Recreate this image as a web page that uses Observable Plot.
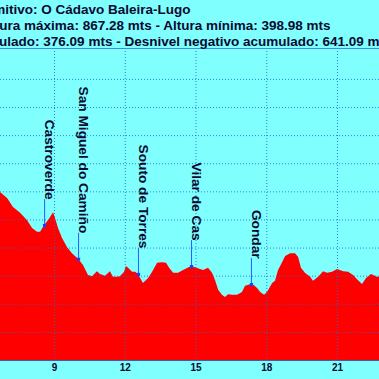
<!DOCTYPE html>
<html><head><meta charset="utf-8">
<script src="https://cdn.jsdelivr.net/npm/d3@7"></script>
<script src="https://cdn.jsdelivr.net/npm/@observablehq/plot@0.6"></script>
<style>html,body{margin:0;padding:0;overflow:hidden;background:#80ffff;}</style>
</head><body><div id="chart"></div>
<script>
const titleLines = [
  "Camino Primitivo: O Cádavo Baleira-Lugo",
  "Altura máxima: 867.28 mts - Altura mínima: 398.98 mts",
  "Desnivel positivo acumulado: 376.09 mts - Desnivel negativo acumulado: 641.09 mts"
];
const km = [6.6, 6.71, 7.01, 7.26, 7.56, 7.85, 8.07, 8.28, 8.41, 8.58, 8.75, 8.96, 9.04, 9.17, 9.34, 9.55, 9.76, 10.02, 10.23, 10.44, 10.61, 10.82, 10.95, 11.16, 11.37, 11.50, 11.67, 11.80, 11.97, 12.05, 12.14, 12.31, 12.44, 12.56, 12.77, 12.99, 13.16, 13.37, 13.58, 13.75, 13.88, 14.05, 14.26, 14.47, 14.81, 14.98, 15.19, 15.32, 15.53, 15.70, 15.83, 15.96, 16.12, 16.25, 16.38, 16.55, 16.76, 16.97, 17.10, 17.35, 17.48, 17.61, 17.74, 17.91, 18.03, 18.25, 18.37, 18.50, 18.67, 18.80, 19.01, 19.22, 19.35, 19.47, 19.64, 19.86, 19.98, 20.20, 20.41, 20.58, 20.79, 21.00, 21.26, 21.47, 21.68, 21.89, 22.06, 22.23, 22.44, 22.70, 22.78, 23.0];
const elevation = [652, 649, 638, 622, 612, 599, 585, 578, 578, 590, 599, 613, 603, 585, 567, 551, 540, 530, 519, 501, 499, 508, 503, 500, 508, 498, 498, 499, 507, 517, 514, 507, 507, 503, 487, 496, 507, 523, 524, 523, 514, 505, 505, 510, 517, 515, 512, 510, 514, 505, 492, 475, 466, 462, 467, 466, 466, 471, 482, 485, 483, 478, 471, 466, 471, 487, 491, 510, 524, 535, 540, 540, 533, 514, 505, 498, 491, 498, 508, 505, 507, 512, 508, 507, 501, 492, 485, 496, 503, 498, 498, 495];
const placeNames = ["Castroverde", "San Miguel do Camiño", "Souto de Torres", "Vilar de Cas", "Gondar"];
const placeKm = [8.58, 10.02, 12.56, 14.81, 17.35];
const placeElevation = [590, 530, 503, 517, 485];
const xTickLabels = [9, 12, 15, 18, 21];
const xGrid = [6, 9, 12, 15, 18, 21];
const yTicks = [400, 450, 500, 550, 600, 650, 700, 750, 800, 850];
const xDomain = [6.71, 22.78];
const yDomain = [350, 905];

const profile = km.map((k, i) => ({km: k, elev: elevation[i]}));
const places = placeNames.map((n, i) => ({name: n, km: placeKm[i], elev: placeElevation[i]}));
const H = 379, MT = 48, MB = 19;
const pxPerUnit = (H - MT - MB) / (yDomain[1] - yDomain[0]);
const leader = 26 / pxPerUnit;

const textColor = "#0a0a30";
const gridColor = "#1f6fd0";

const chart = Plot.plot({
  width: 379, height: H,
  marginLeft: 0, marginRight: 0, marginTop: MT, marginBottom: MB,
  style: {background: "#80ffff", fontFamily: "'Liberation Sans', Arial, sans-serif", fontSize: "10px", fontWeight: "bold", color: textColor, overflow: "hidden"},
  x: {domain: xDomain, ticks: xTickLabels, tickSize: 0, tickPadding: 3, tickFormat: d => String(d), label: null},
  y: {domain: yDomain, axis: null},
  marks: [
    Plot.areaY(profile, {x: "km", y: "elev", fill: "#ff0000", clip: true}),
    Plot.ruleX(xGrid, {stroke: gridColor, strokeDasharray: "1,2", strokeOpacity: 0.85, clip: true}),
    Plot.ruleY(yTicks, {stroke: gridColor, strokeDasharray: "1,2", strokeOpacity: 0.85}),
    Plot.ruleY([yDomain[1]], {stroke: "#3c8ee0", strokeWidth: 1.2}),
    Plot.ruleY([yDomain[0]], {stroke: "#3060c0", strokeWidth: 1}),
    Plot.ruleX(places, {x: "km", y1: "elev", y2: d => d.elev + leader, stroke: "#2a5cff", strokeWidth: 1}),
    Plot.dot(places, {x: "km", y: "elev", symbol: "square", r: 1.8, fill: "#1a40ff"}),
    Plot.text(places, {x: "km", y: "elev", text: "name", rotate: 90, textAnchor: "end", lineAnchor: "middle", dx: 5, dy: -26, fontSize: 13.7, fontWeight: "bold", fill: textColor}),
    Plot.text([titleLines[0]], {text: d => d, frameAnchor: "top-right", textAnchor: "end", lineAnchor: "bottom", dx: -189, dy: -35, fontSize: 13.5, fontWeight: "bold", fill: textColor}),
    Plot.text([titleLines[1]], {text: d => d, frameAnchor: "top-right", textAnchor: "end", lineAnchor: "bottom", dx: -49, dy: -18.5, fontSize: 13.5, fontWeight: "bold", fill: textColor}),
    Plot.text([titleLines[2]], {text: d => d, frameAnchor: "top-right", textAnchor: "end", lineAnchor: "bottom", dx: 12, dy: -2.5, fontSize: 13.5, fontWeight: "bold", fill: textColor})
  ]
});
document.getElementById("chart").appendChild(chart);
</script>
</body></html>
